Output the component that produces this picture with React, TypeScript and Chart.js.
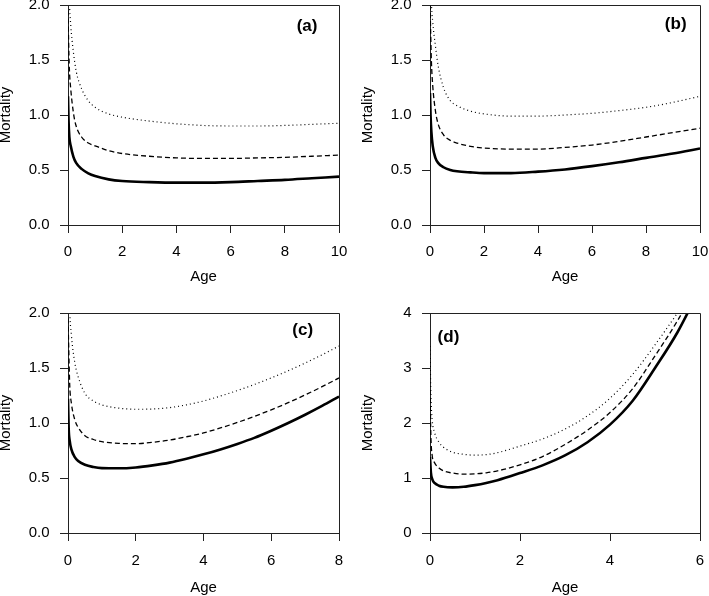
import React, { useEffect, useRef } from 'react';
import { Chart, registerables } from 'chart.js';

Chart.register(...registerables);

// ---------- Data ----------
// Panel (a)
const ageA = [0, 0.02, 0.05, 0.1, 0.2, 0.3, 0.5, 0.75, 1, 1.5, 2, 3, 4, 5, 6, 7, 8, 9, 10];
const solidA = [1.17, 0.95, 0.8, 0.72, 0.62, 0.565, 0.51, 0.47, 0.445, 0.415, 0.4, 0.39, 0.385, 0.385, 0.39, 0.4, 0.41, 0.425, 0.44];
const dashedA = [1.95, 1.7, 1.42, 1.24, 1.02, 0.9, 0.8, 0.745, 0.72, 0.675, 0.65, 0.625, 0.61, 0.605, 0.605, 0.61, 0.615, 0.625, 0.635];
const dottedA = [2.8, 2.4, 2.05, 1.82, 1.57, 1.4, 1.24, 1.13, 1.07, 1.01, 0.98, 0.945, 0.92, 0.905, 0.9, 0.9, 0.905, 0.915, 0.925];

// Panel (b)
const ageB = [0, 0.02, 0.05, 0.1, 0.2, 0.3, 0.5, 0.75, 1, 1.5, 2, 3, 4, 5, 6, 7, 8, 9, 10];
const solidB = [1.2, 1.0, 0.85, 0.72, 0.61, 0.565, 0.525, 0.5, 0.488, 0.478, 0.472, 0.472, 0.485, 0.505, 0.535, 0.57, 0.61, 0.65, 0.695];
const dashedB = [2.0, 1.8, 1.5, 1.27, 1.04, 0.92, 0.82, 0.77, 0.745, 0.715, 0.7, 0.69, 0.69, 0.705, 0.727, 0.76, 0.8, 0.84, 0.88];
const dottedB = [3.0, 2.5, 2.05, 1.85, 1.63, 1.45, 1.25, 1.13, 1.085, 1.035, 1.01, 0.99, 0.99, 1.0, 1.015, 1.04, 1.07, 1.115, 1.17];

// Panel (c)
const ageC = [0, 0.02, 0.05, 0.1, 0.2, 0.3, 0.5, 0.75, 1, 1.5, 2, 2.5, 3, 3.5, 4, 4.5, 5, 5.5, 6, 6.5, 7, 7.5, 8];
const solidC = [1.22, 0.95, 0.84, 0.76, 0.69, 0.655, 0.62, 0.6, 0.59, 0.588, 0.596, 0.615, 0.64, 0.675, 0.715, 0.76, 0.81, 0.865, 0.93, 1.0, 1.075, 1.155, 1.24];
const dashedC = [1.95, 1.7, 1.35, 1.18, 1.03, 0.96, 0.885, 0.85, 0.83, 0.815, 0.812, 0.825, 0.845, 0.875, 0.91, 0.955, 1.005, 1.06, 1.12, 1.185, 1.255, 1.33, 1.41];
const dottedC = [3.2, 2.6, 2.05, 1.8, 1.55, 1.42, 1.27, 1.2, 1.165, 1.135, 1.125, 1.127, 1.14, 1.165, 1.2, 1.245, 1.295, 1.35, 1.41, 1.475, 1.545, 1.62, 1.7];

// Panel (d)
const ageD = [0, 0.02, 0.05, 0.1, 0.2, 0.3, 0.5, 0.75, 1, 1.25, 1.5, 2, 2.5, 3, 3.5, 4, 4.5, 5, 5.5, 6];
const solidD = [1.38, 1.1, 0.98, 0.91, 0.86, 0.84, 0.83, 0.84, 0.87, 0.91, 0.96, 1.09, 1.23, 1.41, 1.65, 1.97, 2.4, 3.0, 3.65, 4.45];
const dashedD = [2.6, 1.75, 1.4, 1.28, 1.18, 1.13, 1.09, 1.07, 1.075, 1.095, 1.13, 1.24, 1.39, 1.61, 1.87, 2.19, 2.62, 3.22, 3.86, 4.6];
const dottedD = [3.4, 2.5, 2.05, 1.83, 1.65, 1.56, 1.47, 1.43, 1.415, 1.425, 1.46, 1.58, 1.71, 1.89, 2.13, 2.45, 2.88, 3.42, 4.0, 4.6];

// Tick values
const xTicks10 = [0, 2, 4, 6, 8, 10];
const xTicks8 = [0, 2, 4, 6, 8];
const xTicks6 = [0, 2, 4, 6];
const yTicks2 = [0, 0.5, 1, 1.5, 2];
const yTicks4 = [0, 1, 2, 3, 4];

const panelLabels = ['(a)', '(b)', '(c)', '(d)'];
const xTitle = 'Age';
const yTitle = 'Mortality';

// ---------- Layout ----------
const FONT = '"Liberation Sans", Arial, Helvetica, sans-serif';
const ML = 80;
const MT = 20;
const MR = 20;
const MB = 80;
const AXIS = '#222';

type PanelCfg = {
  L: number; T: number; R: number; B: number;
  ages: number[]; solid: number[]; dashed: number[]; dotted: number[];
  xMax: number; yMax: number; xTicks: number[]; yTicks: number[]; yDec: number;
  label: string; labelX: number; labelY: number;
  tickPad: number; titlePad: number;
};

const panels: PanelCfg[] = [
  { L: 68, T: 5, R: 339, B: 225, ages: ageA, solid: solidA, dashed: dashedA, dotted: dottedA,
    xMax: 10, yMax: 2, xTicks: xTicks10, yTicks: yTicks2, yDec: 1,
    label: panelLabels[0], labelX: 8.82, labelY: 1.81, tickPad: 9.5, titlePad: 19 },
  { L: 430, T: 5, R: 700, B: 225, ages: ageB, solid: solidB, dashed: dashedB, dotted: dottedB,
    xMax: 10, yMax: 2, xTicks: xTicks10, yTicks: yTicks2, yDec: 1,
    label: panelLabels[1], labelX: 9.1, labelY: 1.82, tickPad: 9.5, titlePad: 19 },
  { L: 68, T: 313, R: 339, B: 533, ages: ageC, solid: solidC, dashed: dashedC, dotted: dottedC,
    xMax: 8, yMax: 2, xTicks: xTicks8, yTicks: yTicks2, yDec: 1,
    label: panelLabels[2], labelX: 6.93, labelY: 1.84, tickPad: 10.8, titlePad: 16.5 },
  { L: 430, T: 313, R: 700, B: 533, ages: ageD, solid: solidD, dashed: dashedD, dotted: dottedD,
    xMax: 6, yMax: 4, xTicks: xTicks6, yTicks: yTicks4, yDec: 0,
    label: panelLabels[3], labelX: 0.41, labelY: 3.55, tickPad: 10.8, titlePad: 16.5 },
];

function Panel({ cfg }: { cfg: PanelCfg }) {
  const ref = useRef<HTMLCanvasElement | null>(null);
  const W = cfg.R - cfg.L + ML + MR;
  const H = cfg.B - cfg.T + MT + MB;

  useEffect(() => {
    if (!ref.current) return;
    const font = { family: FONT, size: 15 };
    const pts = (ys: number[]) => cfg.ages.map((x, i) => ({ x, y: ys[i] }));

    const boxPlugin = {
      id: 'boxPlugin',
      afterDraw(chart: any) {
        const { ctx, chartArea: a } = chart;
        ctx.save();
        ctx.strokeStyle = AXIS;
        ctx.lineWidth = 1;
        ctx.beginPath();
        ctx.moveTo(a.left + 0.5, a.top + 0.5);
        ctx.lineTo(a.right + 0.5, a.top + 0.5);
        ctx.lineTo(a.right + 0.5, a.bottom + 0.5);
        ctx.stroke();
        ctx.restore();
      },
    };
    const labelPlugin = {
      id: 'labelPlugin',
      afterDraw(chart: any) {
        const { ctx } = chart;
        const xs = chart.scales.x;
        const ys = chart.scales.y;
        ctx.save();
        ctx.font = `bold 17px ${FONT}`;
        ctx.fillStyle = '#000';
        ctx.textAlign = 'center';
        ctx.textBaseline = 'middle';
        ctx.fillText(cfg.label, xs.getPixelForValue(cfg.labelX), ys.getPixelForValue(cfg.labelY));
        ctx.restore();
      },
    };

    const chart = new Chart(ref.current, {
      type: 'line',
      data: {
        datasets: [
          { data: pts(cfg.dotted), borderColor: '#000', borderWidth: 1.2, borderDash: [1, 3],
            pointRadius: 0, cubicInterpolationMode: 'monotone', fill: false },
          { data: pts(cfg.dashed), borderColor: '#000', borderWidth: 1.3, borderDash: [5, 3],
            pointRadius: 0, cubicInterpolationMode: 'monotone', fill: false },
          { data: pts(cfg.solid), borderColor: '#000', borderWidth: 2.6,
            pointRadius: 0, cubicInterpolationMode: 'monotone', fill: false },
        ],
      } as any,
      options: {
        animation: false,
        responsive: false,
        maintainAspectRatio: false,
        events: [],
        layout: { padding: { left: 0, top: MT, right: MR, bottom: 0 } },
        plugins: { legend: { display: false }, tooltip: { enabled: false } },
        scales: {
          x: {
            type: 'linear', min: 0, max: cfg.xMax,
            afterBuildTicks: (s: any) => { s.ticks = cfg.xTicks.map((v) => ({ value: v })); },
            afterFit: (s: any) => { s.height = MB; },
            ticks: { color: '#000', font, padding: cfg.tickPad, maxRotation: 0, autoSkip: false,
              callback: (v: any) => String(v) },
            grid: { drawOnChartArea: false, drawTicks: true, tickLength: 8, color: AXIS, lineWidth: 1 },
            border: { display: true, color: AXIS, width: 1 },
            title: { display: true, text: xTitle, color: '#000', font, padding: { top: 0, bottom: cfg.titlePad } },
          },
          y: {
            type: 'linear', min: 0, max: cfg.yMax,
            afterBuildTicks: (s: any) => { s.ticks = cfg.yTicks.map((v) => ({ value: v })); },
            afterFit: (s: any) => { s.width = ML; },
            ticks: { color: '#000', font, padding: 10.5, autoSkip: false,
              callback: (v: any) => Number(v).toFixed(cfg.yDec) },
            grid: { drawOnChartArea: false, drawTicks: true, tickLength: 8, color: AXIS, lineWidth: 1 },
            border: { display: true, color: AXIS, width: 1 },
            title: { display: true, text: yTitle, color: '#000', font, padding: { top: 9, bottom: 0 } },
          },
        },
      } as any,
      plugins: [boxPlugin, labelPlugin],
    });
    return () => chart.destroy();
  }, []);

  return (
    <canvas
      ref={ref}
      width={W}
      height={H}
      style={{ position: 'absolute', left: cfg.L - ML, top: cfg.T - MT, width: W, height: H }}
    />
  );
}

export default function App() {
  return (
    <div style={{ position: 'fixed', left: 0, top: 0, width: 709, height: 596, overflow: 'hidden', background: '#fff' }}>
      {panels.map((p, i) => (
        <Panel key={i} cfg={p} />
      ))}
    </div>
  );
}
